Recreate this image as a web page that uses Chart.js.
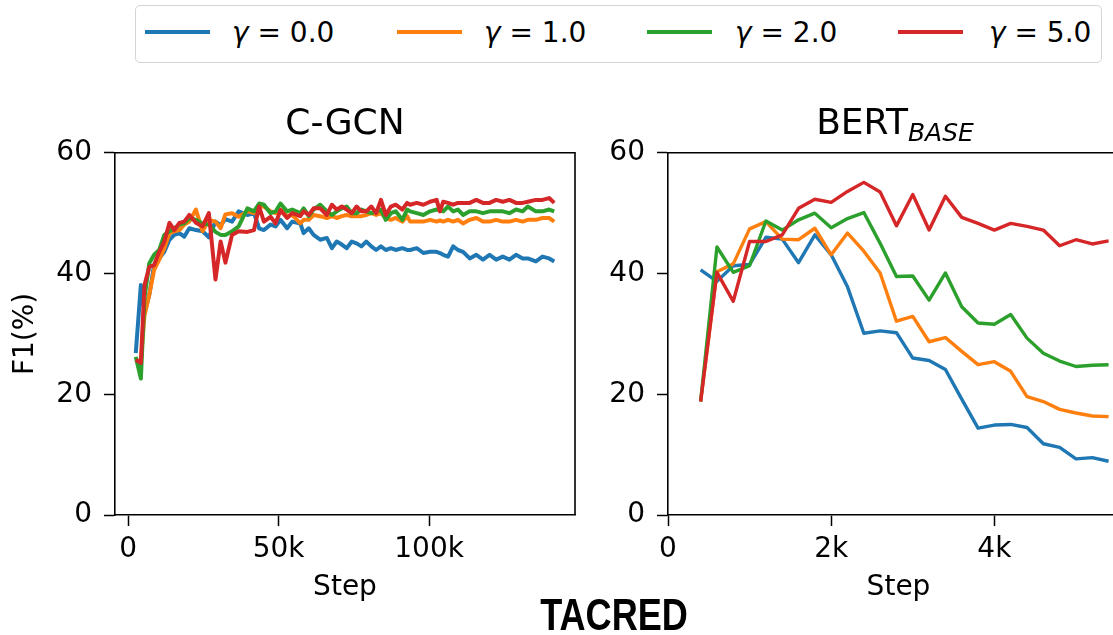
<!DOCTYPE html>
<html>
<head>
<meta charset="utf-8">
<title>TACRED - F1 per step</title>
<script src="https://cdn.jsdelivr.net/npm/chart.js@4"></script>
<style>
  body { margin: 0; width: 1113px; height: 635px; overflow: hidden; background: #fff; position: relative; font-family: 'DejaVu Sans', sans-serif; color: #000; }
  canvas { position: absolute; }
  .box { position: absolute; left: 135px; top: 5px; width: 965px; height: 56px; border: 1.5px solid #d4d4d4; border-radius: 5px; }
  .key { position: absolute; top: 30px; width: 65px; height: 4px; }
  .lab { position: absolute; top: 19px; font-size: 28px; line-height: 28px; white-space: nowrap; }
  .ttl { position: absolute; top: 104px; font-size: 36px; line-height: 36px; text-align: center; white-space: nowrap; }
  .ttl sub { font-size: 25px; font-style: italic; line-height: 0; vertical-align: -7px; }
  .big { position: absolute; left: 514px; top: 593px; width: 200px; text-align: center; font-family: 'Liberation Sans', sans-serif; font-weight: bold; font-size: 44px; line-height: 44px; transform: scaleX(0.82); }
</style>
</head>
<body>

<canvas id="left" width="600" height="486" style="left:0px; top:124px;"></canvas>
<canvas id="right" width="540" height="486" style="left:600px; top:124px;"></canvas>

<div class="box"></div>
<div class="key" style="left:145px; background:#1f77b4;"></div>
<div class="lab" style="left:232px;"><i>γ</i> = 0.0</div>
<div class="key" style="left:397px; background:#ff7f0e;"></div>
<div class="lab" style="left:484px;"><i>γ</i> = 1.0</div>
<div class="key" style="left:647px; background:#2ca02c;"></div>
<div class="lab" style="left:735px;"><i>γ</i> = 2.0</div>
<div class="key" style="left:898px; background:#d62728;"></div>
<div class="lab" style="left:989px;"><i>γ</i> = 5.0</div>

<div class="ttl" style="left:115px; width:460px;">C-GCN</div>
<div class="ttl" style="left:795px; width:200px;">BERT<sub>BASE</sub></div>
<div class="big">TACRED</div>

<script>
// gamma values of the focal loss, one line per value
const gammaNames = ['γ = 0.0', 'γ = 1.0', 'γ = 2.0', 'γ = 5.0'];
const colours = ['#1f77b4', '#ff7f0e', '#2ca02c', '#d62728'];

// C-GCN (left panel)
const cgcnSteps = [2500, 4200, 5400, 7000, 8600, 10300, 12000, 13700, 15300, 17000,
  18600, 20300, 22500, 24700, 26800, 29000, 30700, 32300, 34500, 36700,
  39600, 41800, 43500, 45100, 47300, 49000, 50600, 52800, 54500, 57200,
  58300, 60000, 61600, 63800, 66000, 67700, 69300, 71000, 72600, 74300,
  75900, 77500, 79100, 80800, 82400, 84000, 85600, 87300, 88900, 91100,
  92700, 93700, 95900, 98100, 100300, 102500, 103600, 104700, 106300, 108000,
  109600, 111300, 113500, 115700, 117900, 120100, 122300, 124500, 126700, 128900,
  131100, 132800, 135500, 137700, 139900, 141600];
const cgcnG0 = [26.8, 38.1, 33.4, 36.5, 41.4, 42.5, 43.6, 45.6, 46.4, 46.7,
  46.1, 47.5, 47.2, 47.0, 46.0, 48.6, 48.0, 49.0, 48.6, 50.3,
  49.7, 50.0, 47.5, 47.2, 48.1, 47.8, 48.9, 47.5, 48.6, 48.3,
  46.7, 47.5, 46.4, 45.6, 45.9, 44.2, 45.3, 44.8, 44.2, 45.3,
  45.0, 44.5, 45.3, 44.5, 43.9, 44.5, 43.9, 44.2, 43.9, 44.2,
  43.9, 43.9, 44.2, 43.4, 43.6, 43.6, 43.4, 43.1, 42.8, 44.5,
  43.9, 43.6, 42.5, 43.1, 42.3, 43.1, 42.3, 42.8, 42.3, 43.1,
  42.5, 42.5, 42.0, 42.8, 42.5, 42.0];
const cgcnG1 = [25.7, 25.5, 33.0, 36.5, 40.6, 42.3, 44.2, 46.7, 47.0, 47.2,
  48.1, 48.6, 50.6, 47.0, 48.9, 48.6, 47.5, 49.8, 50.0, 49.4,
  50.3, 50.0, 51.1, 51.1, 50.3, 50.0, 50.6, 49.5, 49.7, 48.3,
  48.9, 48.9, 49.7, 49.5, 49.2, 49.5, 49.2, 49.5, 49.7, 49.5,
  49.5, 49.5, 49.7, 50.0, 49.7, 50.0, 49.2, 48.9, 49.2, 48.6,
  49.5, 48.6, 48.6, 48.6, 48.9, 48.6, 48.8, 48.6, 48.9, 48.6,
  48.9, 48.3, 48.9, 49.2, 48.6, 48.6, 48.9, 48.6, 48.6, 48.9,
  48.6, 48.9, 48.9, 49.2, 49.2, 48.6];
const cgcnG2 = [26.2, 22.6, 36.0, 41.7, 43.1, 43.9, 46.4, 47.0, 47.5, 48.1,
  48.3, 49.2, 48.9, 48.3, 48.1, 46.9, 46.4, 46.4, 47.0, 47.8,
  50.8, 50.3, 51.6, 51.4, 50.0, 50.3, 51.6, 50.3, 50.6, 50.0,
  50.8, 49.5, 50.6, 51.4, 50.3, 49.7, 50.3, 50.8, 51.1, 50.0,
  50.0, 50.6, 50.3, 50.0, 50.3, 50.6, 48.9, 50.0, 50.3, 48.9,
  50.6, 50.3, 50.0, 49.7, 50.3, 50.6, 50.5, 50.3, 51.1, 50.3,
  50.6, 49.7, 50.3, 50.3, 50.0, 50.3, 50.3, 50.3, 50.0, 50.6,
  50.3, 51.1, 50.3, 50.3, 50.6, 50.3];
const cgcnG5 = [25.7, 25.2, 38.1, 41.1, 41.4, 43.6, 45.3, 48.4, 47.2, 48.4,
  48.6, 49.7, 48.4, 47.8, 50.0, 39.0, 45.3, 41.8, 46.4, 47.0,
  46.9, 47.2, 51.1, 48.6, 49.4, 48.3, 50.5, 49.2, 50.0, 49.5,
  50.3, 49.7, 50.8, 50.8, 49.7, 51.4, 50.6, 51.1, 50.6, 50.0,
  51.1, 50.3, 50.3, 51.1, 50.0, 52.2, 49.7, 51.1, 51.4, 50.6,
  51.7, 51.4, 51.7, 51.4, 51.9, 52.2, 50.3, 51.9, 51.7, 51.4,
  51.7, 51.7, 51.7, 52.2, 51.7, 51.7, 52.2, 51.9, 52.2, 51.7,
  51.7, 51.9, 52.2, 52.2, 52.5, 51.7];

// BERT base (right panel)
const bertSteps = [400, 600, 800, 1000, 1200, 1400, 1600, 1800, 2000, 2200,
  2400, 2600, 2800, 3000, 3200, 3400, 3600, 3800, 4000, 4200,
  4400, 4600, 4800, 5000, 5200, 5400];
const bertG0 = [40.6, 38.7, 41.3, 41.5, 46.0, 45.7, 41.8, 46.4, 43.1, 37.8,
  30.1, 30.5, 30.2, 26.0, 25.6, 24.1, 19.2, 14.4, 14.9, 15.0,
  14.5, 11.8, 11.2, 9.3, 9.5, 8.9];
const bertG1 = [18.8, 40.3, 41.6, 47.4, 48.6, 45.7, 45.6, 47.5, 43.1, 46.7,
  43.7, 40.1, 32.1, 32.9, 28.7, 29.4, 27.1, 24.9, 25.4, 23.8,
  19.6, 18.8, 17.5, 16.9, 16.4, 16.3];
const bertG2 = [18.8, 44.4, 40.2, 41.3, 48.7, 47.2, 48.9, 50.0, 47.6, 49.1,
  50.1, 45.0, 39.5, 39.6, 35.6, 40.1, 34.5, 31.8, 31.6, 33.2,
  29.3, 26.8, 25.5, 24.6, 24.8, 24.9];
const bertG5 = [18.8, 40.2, 35.4, 45.3, 45.3, 46.4, 50.8, 52.3, 51.8, 53.6,
  55.1, 53.5, 47.9, 53.1, 47.2, 52.8, 49.3, 48.3, 47.2, 48.3,
  47.8, 47.2, 44.6, 45.6, 44.9, 45.4];

const yTicks = [0, 20, 40, 60];
const cgcnXTicks = [0, 50000, 100000];
const bertXTicks = [0, 2000, 4000];

Chart.defaults.font.family = "'DejaVu Sans', sans-serif";
Chart.defaults.color = '#000';

// top and right spines (matplotlib box)
const frame = {
  id: 'frame',
  afterDraw(chart) {
    const ctx = chart.ctx, a = chart.chartArea;
    ctx.save();
    ctx.strokeStyle = '#000';
    ctx.lineWidth = 1.6;
    ctx.beginPath();
    ctx.moveTo(a.left, a.top);
    ctx.lineTo(a.right, a.top);
    ctx.lineTo(a.right, a.bottom);
    ctx.stroke();
    ctx.restore();
  }
};

function stepLabel(v) {
  return v === 0 ? '0' : (v / 1000) + 'k';
}

function drawPanel(id, steps, series, xMin, xMax, xTicks, yWidth, padRight, showYTitle, lineW) {
  const datasets = series.map((vals, i) => ({
    label: gammaNames[i],
    data: steps.map((s, j) => ({ x: s, y: vals[j] })),
    borderColor: colours[i],
    backgroundColor: colours[i],
    borderWidth: lineW,
    pointRadius: 0,
    tension: 0,
    borderJoinStyle: 'round',
    order: series.length - i
  }));

  new Chart(document.getElementById(id), {
    type: 'line',
    data: { datasets: datasets },
    options: {
      responsive: false,
      animation: false,
      devicePixelRatio: 1,
      layout: { padding: { top: 20, right: padRight, bottom: 0, left: 0 } },
      plugins: { legend: { display: false }, tooltip: { enabled: false } },
      scales: {
        x: {
          type: 'linear',
          min: xMin,
          max: xMax,
          afterBuildTicks: s => { s.ticks = xTicks.map(v => ({ value: v })); },
          afterFit: s => { s.height = 95; },
          ticks: { callback: stepLabel, font: { size: 28 }, padding: 7, maxRotation: 0, color: '#000' },
          grid: { drawOnChartArea: false, tickLength: 11, tickWidth: 1.5, tickColor: '#000' },
          border: { display: true, color: '#000', width: 1.6 },
          title: { display: true, text: 'Step', font: { size: 28 }, padding: { top: 0, bottom: 5 }, color: '#000' }
        },
        y: {
          min: 0,
          max: 60,
          afterBuildTicks: s => { s.ticks = yTicks.map(v => ({ value: v })); },
          afterFit: s => { s.width = yWidth; },
          ticks: { font: { size: 28 }, padding: 12, color: '#000' },
          grid: { drawOnChartArea: false, tickLength: 11, tickWidth: 1.5, tickColor: '#000' },
          border: { display: true, color: '#000', width: 1.6 },
          title: { display: showYTitle, text: 'F1(%)', font: { size: 28 }, padding: { top: 9, bottom: 0 }, color: '#000' }
        }
      }
    },
    plugins: [frame]
  });
}

drawPanel('left', cgcnSteps, [cgcnG0, cgcnG1, cgcnG2, cgcnG5], -4400, 148500, cgcnXTicks, 115, 25, true, 4);
drawPanel('right', bertSteps, [bertG0, bertG1, bertG2, bertG5], 0, 5650, bertXTicks, 68, 11, false, 3.4);
</script>
</body>
</html>
